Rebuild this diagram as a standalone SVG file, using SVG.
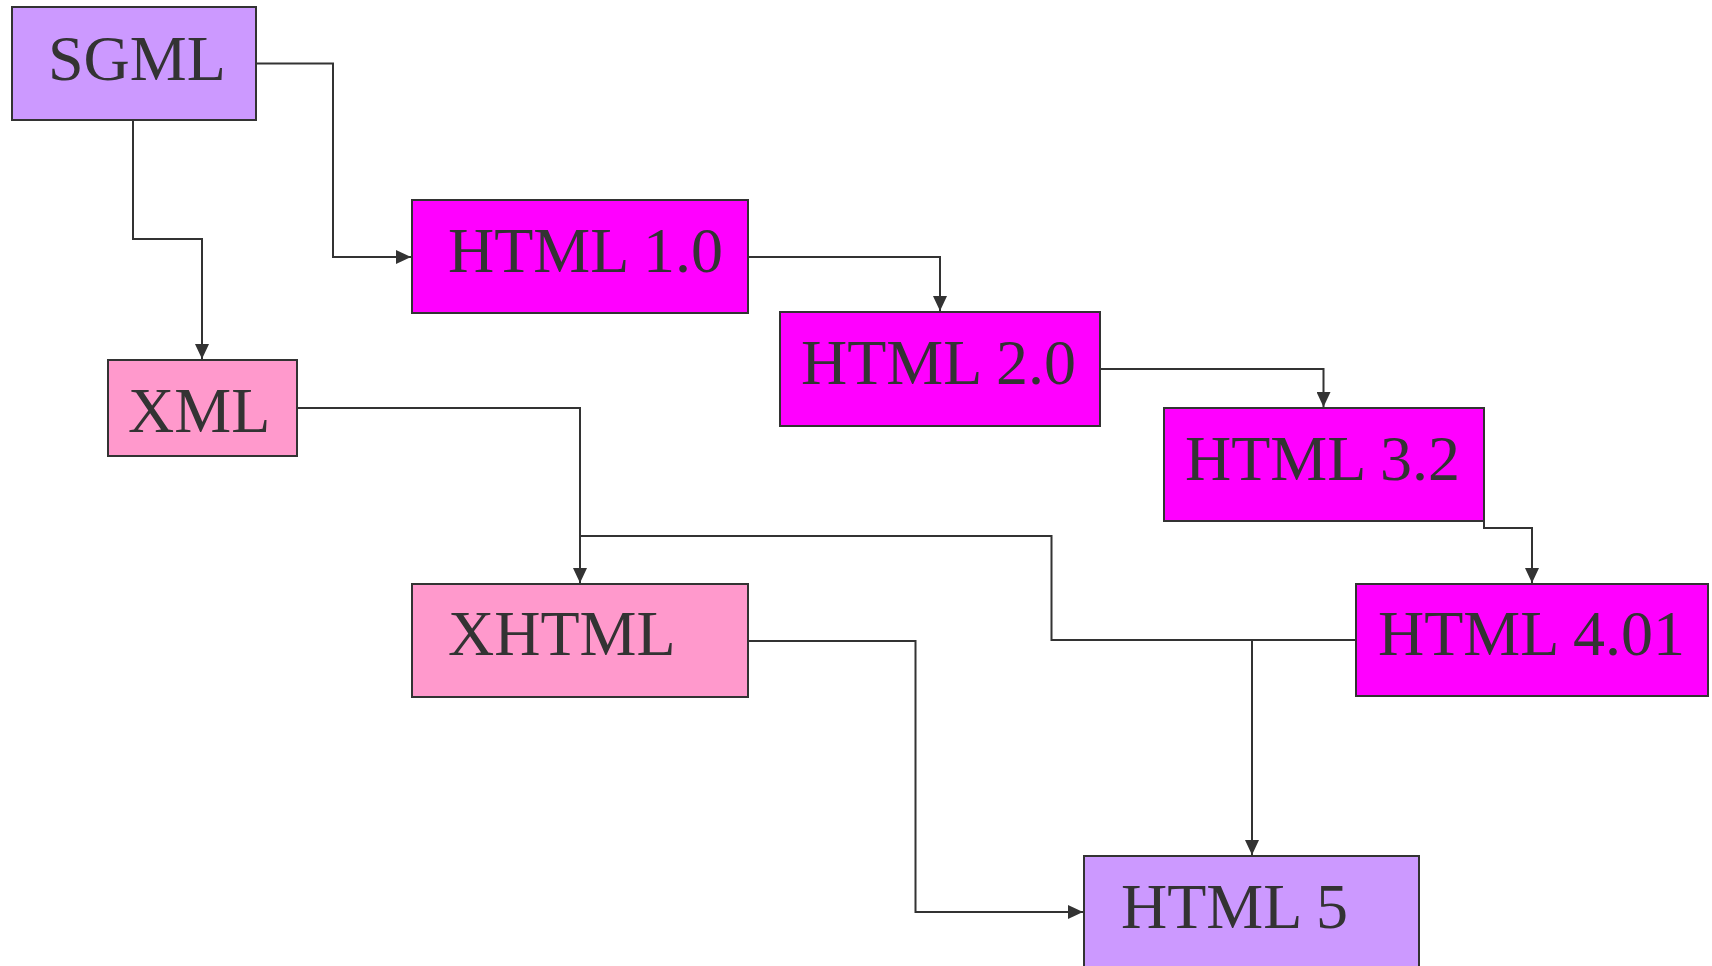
<svg xmlns="http://www.w3.org/2000/svg" width="1712" height="966" viewBox="0 0 1712 966">
<style>
.n rect{stroke:#333;stroke-width:2}
.n text{font-family:"Liberation Serif","Times New Roman",serif;font-size:64px;fill:#333}
.purple rect{fill:#cc99ff}
.mag rect{fill:#ff00ff}
.pink rect{fill:#ff99cc}
#connectors path{fill:none;stroke:#333;stroke-width:2;marker-end:url(#arr)}
</style>
<defs>
<marker id="arr" markerUnits="userSpaceOnUse" markerWidth="15" markerHeight="14" refX="15" refY="7" orient="auto">
<path d="M0,0 L15,7 L0,14 Z" fill="#333"/>
</marker>
</defs>
<rect width="1712" height="966" fill="#fff"/>
<g id="connectors">
<path d="M256,63.5 H333 V257 H411"/>
<path d="M133,120 V239 H202 V359"/>
<path d="M748,257 H940 V311"/>
<path d="M1100,369 H1323.5 V407"/>
<path d="M1484,473 V528 H1532 V583"/>
<path d="M297,408 H580 V583"/>
<path d="M1356,640 H1051.5 V536 H580" style="marker-end:none"/>
<path d="M1356,640 H1252 V855"/>
<path d="M748,641 H915.5 V912 H1083"/>
</g>
<g id="sgml" class="n purple"><rect x="12" y="7" width="244" height="113"/><text x="48" y="80">SGML</text></g>
<g id="xml" class="n pink"><rect x="108" y="360" width="189" height="96"/><text x="128" y="432">XML</text></g>
<g id="html10" class="n mag"><rect x="412" y="200" width="336" height="113"/><text x="448" y="272">HTML 1.0</text></g>
<g id="html20" class="n mag"><rect x="780" y="312" width="320" height="114"/><text x="801" y="384">HTML 2.0</text></g>
<g id="html32" class="n mag"><rect x="1164" y="408" width="320" height="113"/><text x="1185" y="480">HTML 3.2</text></g>
<g id="xhtml" class="n pink"><rect x="412" y="584" width="336" height="113"/><text x="448" y="655">XHTML</text></g>
<g id="html401" class="n mag"><rect x="1356" y="584" width="352" height="112"/><text x="1378" y="655">HTML 4.01</text></g>
<g id="html5" class="n purple"><rect x="1084" y="856" width="335" height="115"/><text x="1121" y="928">HTML 5</text></g>
</svg>
